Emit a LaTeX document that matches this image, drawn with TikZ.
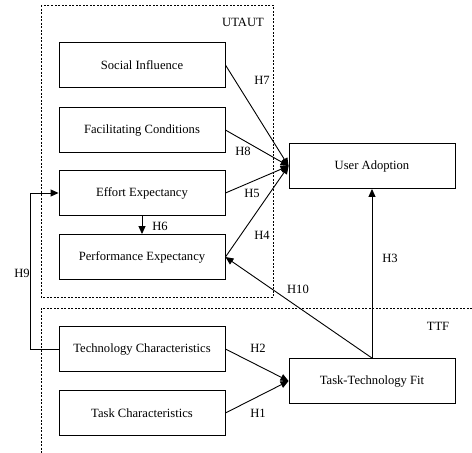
\documentclass[tikz,border=0pt]{standalone}
\usepackage{fontspec}
\setmainfont{Liberation Serif}
\usetikzlibrary{arrows.meta}
\begin{document}
\begin{tikzpicture}[x=1pt,y=-1pt,
  font=\fontsize{12.6}{15}\selectfont,
  box/.style={draw,line width=0.9pt,minimum width=166pt,minimum height=45pt,inner sep=0pt},
  arr/.style={line width=0.9pt,-{Triangle[length=8pt,width=7pt]}},
  region/.style={line width=0.7pt,dash pattern=on 2pt off 1.5pt},
  lab/.style={inner sep=0pt}]
\useasboundingbox (0,0) rectangle (472,453);
% regions
\draw[region] (41,5) rectangle (273,297);
\draw[region] (472,308) -- (41,308) -- (41,453);
\node[lab] (lutaut) at (243,22) {UTAUT};
\node[lab] (lttf) at (438,326) {TTF};
% boxes
\node[box] (si) at (142,65) {Social Influence};
\node[box] (fc) at (142,130) {Facilitating Conditions};
\node[box] (ee) at (142,193) {Effort Expectancy};
\node[box] (pe) at (142,257) {Performance Expectancy};
\node[box] (tc) at (142,349) {Technology Characteristics};
\node[box] (tk) at (142,413) {Task Characteristics};
\node[box] (ua) at (372,166) {User Adoption};
\node[box] (ttf) at (372,381) {Task-Technology Fit};
% connectors
\draw[arr] (si.east) -- (ua.west);
\draw[arr] (fc.east) -- (ua.west);
\draw[arr] (ee.east) -- (ua.west);
\draw[arr] (pe.east) -- (ua.west);
\draw[arr] (ee.south) -- (pe.north);
\draw[arr] (ttf.north) -- (pe.east);
\draw[arr] (ttf.north) -- (ua.south);
\draw[arr] (tc.west) -- ++(-28,0) |- (ee.west);
\draw[arr] (tc.east) -- (ttf.west);
\draw[arr] (tk.east) -- (ttf.west);
% labels
\node[lab] (h7) at (262,80) {H7};
\node[lab] (h8) at (243,151) {H8};
\node[lab] (h5) at (252,193) {H5};
\node[lab] (h4) at (262,235) {H4};
\node[lab] (h6) at (160,226) {H6};
\node[lab] (h9) at (22,273) {H9};
\node[lab] (h10) at (298,289) {H10};
\node[lab] (h3) at (390,258) {H3};
\node[lab] (h2) at (258,348) {H2};
\node[lab] (h1) at (258,413) {H1};
\end{tikzpicture}
\end{document}
